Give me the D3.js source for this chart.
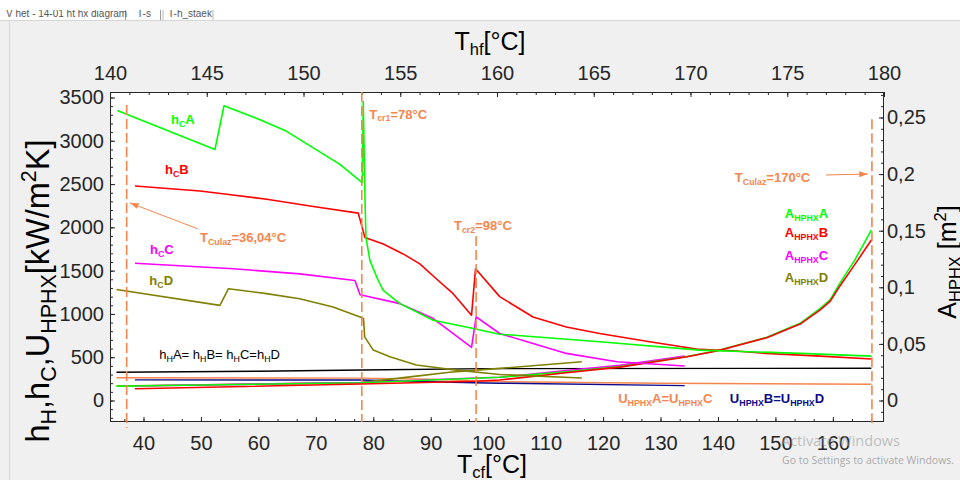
<!DOCTYPE html>
<html><head><meta charset="utf-8">
<script src="https://cdn.jsdelivr.net/npm/d3@7"></script>
<style>
body{margin:0;background:#f0f0f0;overflow:hidden;}
svg{display:block;font-family:"Liberation Sans",Arial,Helvetica,sans-serif;}
</style>
</head><body>
<svg id="c" width="960" height="480"></svg>
<script>
// ---------------- data ----------------
// h_C curves, left axis [kW/m2K], x = Tcf [°C]
const hcA = [[35.44,3350],[52.44,2899],[54.01,3405],[60.28,3244],[64.92,3109],[69.55,2918],[74.19,2727],[77.85,2527],[78.1,2520],[78.25,3454],[78.37,3032],[78.55,2343],[78.72,1884],[79.42,1616],[80.86,1386],[81.73,1271],[84.64,1119],[90.43,927],[97.4,832],[102.0,766],[119.4,678],[136.8,582],[154.3,544],[166.7,513]];
const hcB = [[38.52,2478],[49.83,2420],[54.48,2382],[61.44,2325],[70.14,2236],[77.38,2164],[78.54,1884],[81.73,1808],[85.2,1693],[88.1,1578],[91.3,1386],[93.9,1234],[97.1,984],[97.8,1521],[102.0,1200],[107.8,965],[113.6,850],[119.4,774],[128.1,678],[136.8,590],[142.6,575],[148.3,544],[157.0,515],[166.7,479]];
const hcC = [[38.52,1585],[55.6,1521],[67.2,1463],[76.8,1386],[77.7,1222],[84.64,1119],[90.43,946],[97.1,613],[97.9,965],[102.0,774],[107.8,659],[113.6,544],[122.4,448],[134.2,399]];
const hcD = [[35.3,1283],[53.3,1099],[54.8,1291],[61.4,1234],[67.2,1176],[73.0,1080],[77.7,965],[78.3,946],[78.5,735],[80.0,582],[82.9,505],[87.5,410],[93.3,360],[102.0,300],[116.3,260]];
// h_H (all equal) and U_HPHX, left axis
const hH  = [[35.3,326],[60,338],[78,352],[100,368],[166.7,372]];
const uAC = [[35.3,263],[77.8,258],[90,245],[102,218],[130,200],[166.7,187]];
const uBD = [[38.5,238],[77.8,236],[97.5,205],[102,200],[134.2,172]];
// A_HPHX curves, right axis [m2]
const aA = [[35.3,0.0126],[77.8,0.0157],[97.9,0.0196],[102.0,0.0205],[113.6,0.0254],[122.9,0.0299],[134.4,0.0387],[139.8,0.0440],[148.5,0.0558],[154.3,0.0682],[157.8,0.0814],[159.5,0.0888],[161.2,0.1035],[163.8,0.124],[166.7,0.1506]];
const aB = [[38.5,0.0104],[77.8,0.0146],[97.9,0.0170],[102.0,0.0181],[113.6,0.0245],[122.9,0.0295],[134.4,0.0385],[139.8,0.0438],[148.5,0.0555],[154.3,0.0675],[157.8,0.0800],[159.5,0.0875],[161.2,0.1010],[163.8,0.120],[166.7,0.1418]];
const aC = [[38.5,0.0128],[77.8,0.0159],[97.9,0.0199],[102.0,0.0205],[113.6,0.0265],[122.9,0.0310],[134.2,0.0392]];
const aD = [[35.3,0.0128],[77.8,0.0158],[87.5,0.0215],[93.3,0.0250],[102.0,0.0284],[116.3,0.0343]];
// vertical marker temperatures (positions read on the Tcf axis)
const markerT = [37.07, 78.0, 97.9, 166.8];
// tick values / labels
const bottomTicks = [40,50,60,70,80,90,100,110,120,130,140,150,160];
const topTicks = [140,145,150,155,160,165,170,175,180];
const leftTicks = [0,500,1000,1500,2000,2500,3000,3500];
const rightTicks = [0,0.05,0.1,0.15,0.2,0.25];
const rightTickLabels = ["0","0,05","0,1","0,15","0,2","0,25"];

// ---------------- layout ----------------
const L=110,R=884,T=92,B=422;
const svg = d3.select("#c");
const x    = d3.scaleLinear().domain([34.17,168.9]).range([L,R]);
const xTop = d3.scaleLinear().domain([140,180]).range([L,R]);
const yL   = d3.scaleLinear().domain([-248.4,3563.5]).range([B,T]);
const yR   = d3.scaleLinear().domain([-0.01899,0.27253]).range([B,T]);

const ORANGE="#f5864e", NAVY="#0a0a8a", OLIVE="#808000", TXT="#262626";

// window chrome (tab strip)
const defs = svg.append("defs");
defs.append("clipPath").attr("id","tabclip").append("rect").attr("x",0).attr("y",10).attr("width",960).attr("height",10);
svg.append("rect").attr("x",0).attr("y",0).attr("width",960).attr("height",20).attr("fill","#ffffff");
svg.append("line").attr("x1",0).attr("x2",960).attr("y1",20.5).attr("y2",20.5).attr("stroke","#d6d6d6");
const tabs = svg.append("g").attr("clip-path","url(#tabclip)");
tabs.append("rect").attr("x",163).attr("y",9.5).attr("width",50).attr("height",12).attr("fill","#fff").attr("stroke","#b9b9b9");
[125.5,160.5].forEach(v=>tabs.append("line").attr("x1",v).attr("x2",v).attr("y1",9).attr("y2",20).attr("stroke","#9a9a9a"));
tabs.append("text").attr("x",6).attr("y",17).attr("font-size",10).attr("fill","#555").text("V het - 14-01 ht hx diagram");
tabs.append("text").attr("x",137).attr("y",17).attr("font-size",10).attr("fill","#555").text("T-s");
tabs.append("text").attr("x",168).attr("y",17).attr("font-size",10).attr("fill","#555").text("T-h_staek");
svg.append("line").attr("x1",9.5).attr("x2",9.5).attr("y1",20).attr("y2",480).attr("stroke","#d8d8d8");

// plot background
svg.append("rect").attr("x",L).attr("y",T).attr("width",R-L).attr("height",B-T).attr("fill","#fff");

// rich text helper: parts = [[str, mode]] mode 0 normal, 1 sub, 2 sup
function rich(parent, parts, fs, subScale){
  subScale = subScale||0.68;
  const t = parent.append("text").attr("font-size",fs);
  let shift=0;
  parts.forEach(([s,m])=>{
    const target = m===1 ? fs*0.2 : (m===2 ? -fs*0.4 : 0);
    const ts = t.append("tspan").attr("dy",(target-shift).toFixed(2)).text(s);
    if(m) ts.attr("font-size",(fs*subScale).toFixed(2));
    shift=target;
  });
  return t;
}

// ---------------- axes ----------------
function styleAxis(g){ g.select(".domain").remove(); g.selectAll("line").attr("stroke",TXT); g.selectAll("text").attr("fill",TXT).attr("font-family",null).attr("font-size",20); }
// minor ticks
svg.append("g").attr("transform",`translate(0,${B})`).call(d3.axisBottom(x).tickValues(d3.range(36.6667,168.9,10/3)).tickSize(-3).tickFormat("")).call(styleAxis);
svg.append("g").attr("transform",`translate(0,${T})`).call(d3.axisTop(xTop).tickValues(d3.range(140,180.5,1)).tickSize(-3).tickFormat("")).call(styleAxis);
svg.append("g").attr("transform",`translate(${L},0)`).call(d3.axisLeft(yL).tickValues(d3.range(-200,3550,100)).tickSize(-3).tickFormat("")).call(styleAxis);
svg.append("g").attr("transform",`translate(${R},0)`).call(d3.axisRight(yR).tickValues(d3.range(-0.01,0.2705,0.01)).tickSize(-3).tickFormat("")).call(styleAxis);
// major ticks with labels
svg.append("g").attr("transform",`translate(0,${B})`).call(d3.axisBottom(x).tickValues(bottomTicks).tickSize(-5).tickPadding(14).tickFormat(d3.format("d"))).call(styleAxis);
svg.append("g").attr("transform",`translate(0,${T})`).call(d3.axisTop(xTop).tickValues(topTicks).tickSize(-5).tickPadding(12).tickFormat(d3.format("d"))).call(styleAxis);
svg.append("g").attr("transform",`translate(${L},0)`).call(d3.axisLeft(yL).tickValues(leftTicks).tickSize(-5).tickPadding(6).tickFormat(d3.format("d"))).call(styleAxis);
svg.append("g").attr("transform",`translate(${R},0)`).call(d3.axisRight(yR).tickValues(rightTicks).tickSize(-5).tickPadding(3).tickFormat((d,i)=>rightTickLabels[i])).call(styleAxis);

// frame
svg.append("rect").attr("x",L+0.5).attr("y",T+0.5).attr("width",R-L-1).attr("height",B-T-1).attr("fill","none").attr("stroke",TXT).attr("stroke-width",1);

// ---------------- curves ----------------
const lineL = d3.line().x(d=>x(d[0])).y(d=>yL(d[1]));
const lineR = d3.line().x(d=>x(d[0])).y(d=>yR(d[1]));
const plot = svg.append("g");
function draw(data, gen, color, w){ plot.append("path").attr("d",gen(data)).attr("fill","none").attr("stroke",color).attr("stroke-width",w||1.6).attr("stroke-linejoin","round"); }
draw(hH, lineL, "#000000", 1.4);
draw(uAC, lineL, ORANGE, 1.4);
draw(uBD, lineL, NAVY, 1.4);
draw(aD, lineR, OLIVE);
draw(aC, lineR, "#ff00ff");
draw(aA, lineR, "#00ff00");
draw(aB, lineR, "#ff0000");
draw(hcD, lineL, OLIVE);
draw(hcC, lineL, "#ff00ff");
draw(hcB, lineL, "#ff0000");
draw(hcA, lineL, "#00ff00");

// ---------------- vertical dashed markers ----------------
const markerSpans = [[3413,-318],[3563.5,-248.4],[1900,-248.4],[3249,-260]];
markerT.forEach((t,i)=>{
  svg.append("line").attr("x1",x(t)).attr("x2",x(t)).attr("y1",yL(markerSpans[i][0])).attr("y2",yL(markerSpans[i][1]))
    .attr("stroke",ORANGE).attr("stroke-width",1.6).attr("stroke-dasharray","10,4");
});

// arrows
defs.append("marker").attr("id","ah").attr("viewBox","0 0 10 7").attr("refX",10).attr("refY",3.5)
  .attr("markerWidth",9).attr("markerHeight",6).attr("markerUnits","userSpaceOnUse").attr("orient","auto")
  .append("path").attr("d","M0,0L10,3.5L0,7z").attr("fill",ORANGE);
function arrow(x1,y1,x2,y2){ svg.append("line").attr("x1",x(x1)).attr("y1",yL(y1)).attr("x2",x(x2)).attr("y2",yL(y2)).attr("stroke",ORANGE).attr("stroke-width",1).attr("marker-end","url(#ah)"); }
arrow(49.48,1982,37.65,2282);
arrow(158.78,2605,166.09,2616);

// ---------------- annotations ----------------
const ann = svg.append("g").attr("font-weight","bold");
function label(parts, xv, yv, color, fs, weight){
  const t = rich(ann, parts, fs||13).attr("x",x(xv)).attr("y",yL(yv)).attr("fill",color);
  if(weight) t.attr("font-weight",weight);
  return t;
}
label([["h",0],["C",1],["A",0]], 44.79, 3194, "#00ff00");
label([["h",0],["C",1],["B",0]], 43.74, 2616, "#ff0000");
label([["h",0],["C",1],["C",0]], 41.13, 1692, "#ff00ff");
label([["h",0],["C",1],["D",0]], 41.01, 1334, OLIVE);
label([["h",0],["H",1],["A= h",0],["H",1],["B= h",0],["H",1],["C=h",0],["H",1],["D",0]], 42.75, 479, "#000", 13, "normal");
label([["T",0],["Culaz",1],["=36,04°C",0]], 49.83, 1831, ORANGE);
label([["T",0],["cr1",1],["=78°C",0]], 79.3, 3257, ORANGE);
label([["T",0],["cr2",1],["=98°C",0]], 94.04, 1970, ORANGE);
label([["T",0],["Culaz",1],["=170°C",0]], 142.94, 2524, ORANGE);
label([["A",0],["HPHX",1],["A",0]], 151.64, 2108, "#00ff00");
label([["A",0],["HPHX",1],["B",0]], 151.64, 1889, "#ff0000");
label([["A",0],["HPHX",1],["C",0]], 151.64, 1623, "#ff00ff");
label([["A",0],["HPHX",1],["D",0]], 151.64, 1369, OLIVE);
label([["U",0],["HPHX",1],["A=U",0],["HPHX",1],["C",0]], 122.63, -29, ORANGE);
label([["U",0],["HPHX",1],["B=U",0],["HPHX",1],["D",0]], 142.07, -29, NAVY);

// ---------------- axis titles ----------------
rich(svg, [["T",0],["hf",1],["[°C]",0]], 25, 0.66).attr("x",490).attr("y",50).attr("text-anchor","middle").attr("fill","#000");
rich(svg, [["T",0],["cf",1],["[°C]",0]], 25, 0.66).attr("x",492).attr("y",473).attr("text-anchor","middle").attr("fill","#000");
rich(svg.append("g").attr("transform","translate(49,291) rotate(-90)"),
  [["h",0],["H",1],[",h",0],["C",1],[",U",0],["HPHX",1],["[kW/m",0],["2",2],["K]",0]], 32.5, 0.66)
  .attr("x",0).attr("y",0).attr("text-anchor","middle").attr("fill","#000");
rich(svg.append("g").attr("transform","translate(956,262) rotate(-90)"),
  [["A",0],["HPHX",1],[" [m",0],["2",2],["]",0]], 25, 0.66)
  .attr("x",0).attr("y",0).attr("text-anchor","middle").attr("fill","#000");

// ---------------- OS watermark ----------------
svg.append("text").attr("x",781).attr("y",446).attr("font-family","'Open Sans',sans-serif").attr("font-size",14.5).attr("fill","#9a9a9a").attr("fill-opacity",0.6).text("Activate Windows");
svg.append("text").attr("x",782).attr("y",464).attr("font-family","'Open Sans',sans-serif").attr("font-size",10.5).attr("fill","#9a9a9a").attr("fill-opacity",0.85).text("Go to Settings to activate Windows.");
</script>
</body></html>
